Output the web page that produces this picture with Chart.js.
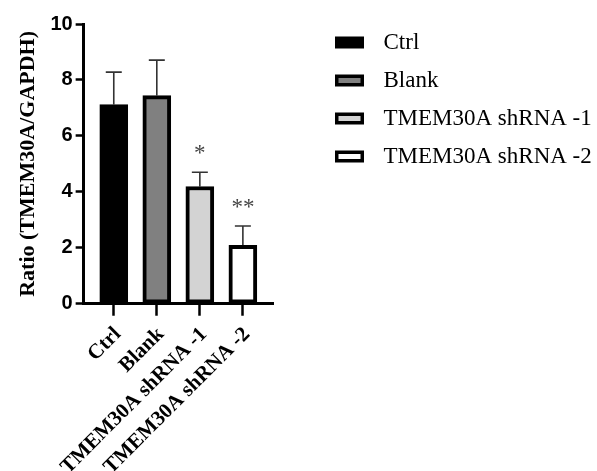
<!DOCTYPE html>
<html><head><meta charset="utf-8">
<style>html,body{margin:0;padding:0;background:#fff;} #wrap{width:597px;height:471px;}</style>
<script src="https://cdn.jsdelivr.net/npm/chart.js@4.4.0/dist/chart.umd.min.js"></script>
</head><body><div id="wrap"><canvas id="c" width="597" height="471"></canvas></div>
<script>
const categories = ['Ctrl', 'Blank', 'TMEM30A shRNA -1', 'TMEM30A shRNA -2'];
const means = [7.12, 7.44, 4.19, 2.09];
const errors = [1.16, 1.27, 0.51, 0.69];
const significance = ['', '', '*', '**'];
const yTicks = [0, 2, 4, 6, 8, 10];
const fills = ['#000000', '#808080', '#d3d3d3', '#ffffff'];
const yTitle = 'Ratio (TMEM30A/GAPDH)';

function makeBox(fill) {
  const cv = document.createElement('canvas');
  cv.width = 37; cv.height = 13;
  const g = cv.getContext('2d');
  g.fillStyle = '#000'; g.fillRect(0, 0.5, 29, 12);
  g.fillStyle = fill; g.fillRect(3.5, 4, 22, 5);
  return cv;
}
const boxImages = fills.map(makeBox);

const errorPlugin = {
  id: 'errorBars',
  beforeDatasetsDraw(chart) {
    const {ctx, scales: {x, y}} = chart;
    ctx.save();
    ctx.strokeStyle = '#333'; ctx.lineWidth = 1.6;
    means.forEach((m, i) => {
      const px = x.getPixelForValue(i);
      const top = y.getPixelForValue(m + errors[i]);
      const base = y.getPixelForValue(m);
      ctx.beginPath();
      ctx.moveTo(px, base); ctx.lineTo(px, top);
      ctx.moveTo(px - 8, top); ctx.lineTo(px + 8, top);
      ctx.stroke();
    });
    ctx.restore();
  },
  afterDatasetsDraw(chart) {
    const {ctx, scales: {x, y}} = chart;
    ctx.save();
    ctx.fillStyle = '#444';
    ctx.font = '23px "Liberation Serif"';
    ctx.textAlign = 'center'; ctx.textBaseline = 'alphabetic';
    significance.forEach((s, i) => {
      if (!s) return;
      ctx.fillText(s, x.getPixelForValue(i), y.getPixelForValue(means[i] + errors[i]) - 12);
    });
    ctx.restore();
  }
};

new Chart(document.getElementById('c'), {
  type: 'bar',
  data: {
    datasets: [{
      data: means.map((v, i) => ({x: i, y: v})),
      backgroundColor: fills,
      borderColor: '#000',
      borderWidth: 4,
      borderSkipped: false,
      barThickness: 28
    }]
  },
  options: {
    responsive: false,
    animation: false,
    layout: {padding: {top: 16, left: 10, right: 0, bottom: 0}},
    plugins: {
      tooltip: {enabled: false},
      legend: {
        position: 'right', align: 'start', onClick: null, maxWidth: 277,
        labels: {
          usePointStyle: true, pointStyleWidth: 37, padding: 15, color: '#000',
          font: {family: 'Liberation Serif', size: 23},
          generateLabels: () => categories.map((c, i) => ({
            text: c, pointStyle: boxImages[i], fillStyle: fills[i], strokeStyle: '#000',
            lineWidth: 0, hidden: false, index: i, datasetIndex: 0
          }))
        }
      }
    },
    scales: {
      x: {
        type: 'linear', min: -0.7, max: 3.7, offset: false,
        afterBuildTicks: s => { s.ticks = categories.map((c, i) => ({value: i})); },
        afterFit: s => { s.height -= 15; },
        grid: {display: true, offset: false, drawOnChartArea: false, drawTicks: true, tickLength: 12, tickWidth: 2.5, tickColor: '#000'},
        border: {display: true, width: 3, color: '#000'},
        ticks: {
          autoSkip: false, minRotation: 45, maxRotation: 45, padding: 8, labelOffset: 4, color: '#000',
          font: {family: 'Liberation Serif', size: 21, weight: 'bold', lineHeight: 1},
          callback: (v, i) => categories[i]
        }
      },
      y: {
        min: 0, max: 10,
        afterBuildTicks: s => { s.ticks = yTicks.map(v => ({value: v})); },
        grid: {display: true, drawOnChartArea: false, drawTicks: true, tickLength: 8, tickWidth: 2.5, tickColor: '#000'},
        border: {display: true, width: 3, color: '#000'},
        ticks: {padding: 3, color: '#000', font: {family: 'Liberation Sans', size: 20, weight: 'bold', lineHeight: 2.1}},
        title: {
          display: true, text: yTitle, color: '#000',
          font: {family: 'Liberation Serif', size: 22, weight: 'bold', lineHeight: 1.2},
          padding: {top: 5, bottom: 6}
        }
      },
      y2: {
        type: 'linear', position: 'right', display: true,
        grid: {display: false}, border: {display: false}, ticks: {display: false},
        afterFit: s => { s.width = 47; }
      }
    }
  },
  plugins: [errorPlugin]
});
</script></body></html>
